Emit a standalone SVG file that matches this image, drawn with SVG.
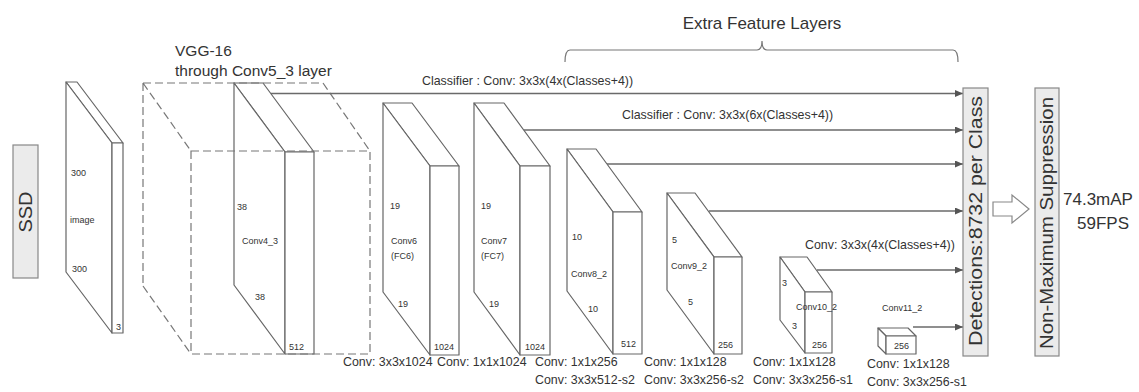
<svg xmlns="http://www.w3.org/2000/svg" width="1139" height="392" viewBox="0 0 1139 392">
<defs>
<marker id="ah" markerWidth="8" markerHeight="7" refX="8" refY="3.5" orient="auto" markerUnits="userSpaceOnUse">
<path d="M0,0 L8,3.5 L0,7 z" fill="#555"/>
</marker>
<style>
text{font-family:"Liberation Sans",Arial,sans-serif;fill:#333}
.slab{fill:#fff;stroke:#666;stroke-width:1.2;stroke-linejoin:round}
.dash{fill:none;stroke:#777;stroke-width:1.2;stroke-dasharray:8 4}
.conn{fill:none;stroke:#6a6a6a;stroke-width:1.4;marker-end:url(#ah)}
.box{fill:#ebebeb;stroke:#888;stroke-width:1.2}
.in{font-size:9px}
.lab{font-size:12.4px}
.cls{font-size:12.4px}
.big{font-size:15.5px}
</style>
</defs>
<rect width="1139" height="392" fill="#fff"/>

<g id="ssd">
<rect class="box" x="13" y="145" width="25" height="133"/>
<text x="0" y="0" font-size="18" text-anchor="middle" textLength="41" lengthAdjust="spacingAndGlyphs" transform="translate(31.5,212) rotate(-90)">SSD</text>
</g>

<g id="image">
<path class="slab" d="M66,82 L77,82 L123,143 L112,143 Z"/>
<path class="slab" d="M66,82 L112,143 L112,333 L66,272 Z"/>
<rect class="slab" x="112" y="143" width="11" height="190"/>
<text class="in" x="71" y="176">300</text>
<text class="in" x="70" y="223">image</text>
<text class="in" x="72" y="272">300</text>
<text class="in" x="116" y="330">3</text>
</g>

<g id="conv4_3">
<path class="slab" d="M234,83 L263,83 L314,152 L285,152 Z"/>
<path class="slab" d="M234,83 L285,152 L285,354 L234,285 Z"/>
<rect class="slab" x="285" y="152" width="29" height="202"/>
<text class="in" x="237" y="210">38</text>
<text class="in" x="242" y="244">Conv4_3</text>
<text class="in" x="255" y="300">38</text>
<text class="in" x="289" y="350">512</text>
</g>

<g id="vgg16">
<path class="dash" d="M143,83 L323,83 M143,83 L143,286 M143,83 L191,151 M323,83 L370,151 M143,286 L191,354"/>
<rect class="dash" x="191" y="151" width="179" height="203"/>
<text class="big" x="175" y="56">VGG-16</text>
<text class="big" x="175" y="76">through Conv5_3 layer</text>
</g>

<g id="conv6">
<path class="slab" d="M383,103 L412,103 L459,166 L430,166 Z"/>
<path class="slab" d="M383,103 L430,166 L430,355 L383,292 Z"/>
<rect class="slab" x="430" y="166" width="29" height="189"/>
<text class="in" x="390" y="209">19</text>
<text class="in" x="391" y="244">Conv6</text>
<text class="in" x="391" y="259">(FC6)</text>
<text class="in" x="398" y="307">19</text>
<text class="in" x="434" y="350" font-size="8">1024</text>
</g>

<g id="conv7">
<path class="slab" d="M474,103 L504,103 L550,166 L520,166 Z"/>
<path class="slab" d="M474,103 L520,166 L520,355 L474,292 Z"/>
<rect class="slab" x="520" y="166" width="30" height="189"/>
<text class="in" x="481" y="209">19</text>
<text class="in" x="481" y="244">Conv7</text>
<text class="in" x="481" y="259">(FC7)</text>
<text class="in" x="489" y="307">19</text>
<text class="in" x="525" y="350" font-size="8">1024</text>
</g>

<g id="conv8_2">
<path class="slab" d="M567,149 L596,149 L642,212 L613,212 Z"/>
<path class="slab" d="M567,149 L613,212 L613,354 L567,291 Z"/>
<rect class="slab" x="613" y="212" width="29" height="142"/>
<text class="in" x="572" y="240">10</text>
<text class="in" x="571" y="277">Conv8_2</text>
<text class="in" x="588" y="312">10</text>
<text class="in" x="621" y="347">512</text>
</g>

<g id="conv9_2">
<path class="slab" d="M667,193 L695,193 L742,257 L714,257 Z"/>
<path class="slab" d="M667,193 L714,257 L714,354 L667,290 Z"/>
<rect class="slab" x="714" y="257" width="28" height="97"/>
<text class="in" x="672" y="243">5</text>
<text class="in" x="671" y="269">Conv9_2</text>
<text class="in" x="688" y="305">5</text>
<text class="in" x="718" y="348">256</text>
</g>

<g id="conv10_2">
<path class="slab" d="M780,257 L807,257 L832,292 L805,292 Z"/>
<path class="slab" d="M780,257 L805,292 L805,353 L780,320 Z"/>
<rect class="slab" x="805" y="292" width="27" height="61"/>
<text class="in" x="782" y="286">3</text>
<text class="in" x="796" y="310" font-size="7.5">Conv10_2</text>
<text class="in" x="792" y="329">3</text>
<text class="in" x="812" y="348">256</text>
</g>

<g id="conv11_2">
<path class="slab" d="M878,328 L908,328 L916,336 L886,336 Z"/>
<path class="slab" d="M878,328 L886,336 L886,354 L878,346 Z"/>
<rect class="slab" x="886" y="336" width="30" height="18"/>
<text class="in" x="894" y="349" font-size="8">256</text>
<text class="in" x="882" y="311" font-size="8">Conv11_2</text>
</g>

<g id="connectors">
<path class="conn" d="M271,93.5 L963,93.5"/>
<path class="conn" d="M524,130 L963,130"/>
<path class="conn" d="M607,164 L963,164"/>
<path class="conn" d="M709,211 L963,211"/>
<path class="conn" d="M817,270 L963,270"/>
<path class="conn" d="M913,327 L963,327"/>
</g>

<g id="connector-labels">
<text class="cls" x="422" y="85">Classifier : Conv: 3x3x(4x(Classes+4))</text>
<text class="cls" x="622" y="119">Classifier : Conv: 3x3x(6x(Classes+4))</text>
<text class="cls" x="805" y="249">Conv: 3x3x(4x(Classes+4))</text>
</g>

<g id="layer-labels">
<text class="lab" x="343" y="366">Conv: 3x3x1024</text>
<text class="lab" x="437" y="366">Conv: 1x1x1024</text>
<text class="lab" x="535" y="366">Conv: 1x1x256</text>
<text class="lab" x="535" y="384">Conv: 3x3x512-s2</text>
<text class="lab" x="644" y="366">Conv: 1x1x128</text>
<text class="lab" x="644" y="384">Conv: 3x3x256-s2</text>
<text class="lab" x="753" y="366">Conv: 1x1x128</text>
<text class="lab" x="753" y="384">Conv: 3x3x256-s1</text>
<text class="lab" x="867" y="368">Conv: 1x1x128</text>
<text class="lab" x="867" y="386">Conv: 3x3x256-s1</text>
</g>

<g id="extra-feature-layers">
<path d="M565,62 Q565,50 570,50 L757,50 Q762,50 762,41 Q762,50 767,50 L953,50 Q958,50 958,62" fill="none" stroke="#777" stroke-width="1.2"/>
<text x="762" y="29" font-size="17" text-anchor="middle">Extra Feature Layers</text>
</g>

<g id="detections">
<rect class="box" x="963" y="88" width="25" height="268"/>
<text x="0" y="0" font-size="18" text-anchor="middle" textLength="250" lengthAdjust="spacingAndGlyphs" transform="translate(982,221) rotate(-90)">Detections:8732  per Class</text>
</g>

<g id="arrow">
<path d="M993,202 L1012,202 L1012,195 L1029,209 L1012,223 L1012,216 L993,216 Z" fill="#fff" stroke="#888" stroke-width="1.2"/>
</g>

<g id="nms">
<rect class="box" x="1035" y="88" width="24" height="268" fill="#f0f0f0"/>
<text x="0" y="0" font-size="18" text-anchor="middle" textLength="252" lengthAdjust="spacingAndGlyphs" transform="translate(1053,223) rotate(-90)">Non-Maximum Suppression</text>
</g>

<g id="result">
<text x="1063" y="205" font-size="17">74.3mAP</text>
<text x="1077" y="229" font-size="17">59FPS</text>
</g>
</svg>
